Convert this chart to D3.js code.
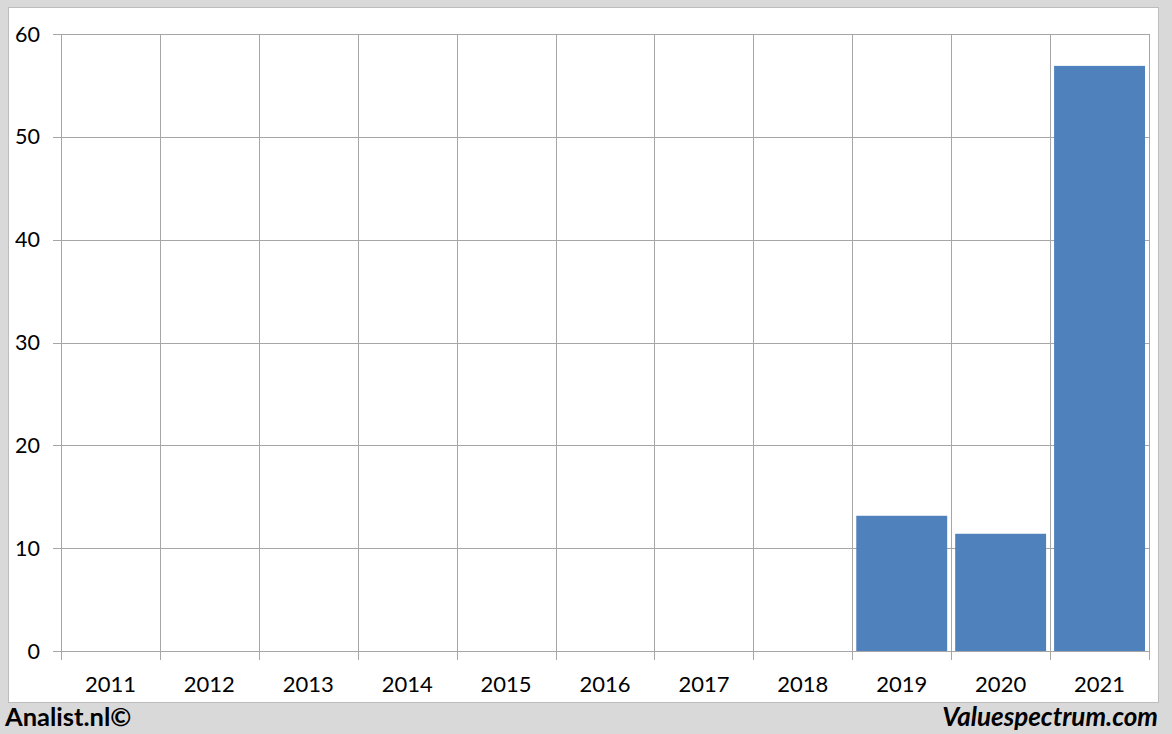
<!DOCTYPE html>
<html><head><meta charset="utf-8">
<script src="https://cdn.jsdelivr.net/npm/d3@7"></script>
<style>html,body{margin:0;padding:0;background:#d9d9d9;}svg{display:block;}</style>
</head><body>
<svg id="c" width="1172" height="734"></svg>
<script>
const years = ["2011","2012","2013","2014","2015","2016","2017","2018","2019","2020","2021"];
const values = [null,null,null,null,null,null,null,null,13.15,11.4,56.9];
const yTicks = [0,10,20,30,40,50,60];

const svg = d3.select("#c");
const font = "Lato, 'Open Sans', sans-serif";
svg.append("rect").attr("x",0).attr("y",0).attr("width",1172).attr("height",734).attr("fill","#d9d9d9");
svg.append("rect").attr("x",8.5).attr("y",7.5).attr("width",1150).attr("height",695)
  .attr("fill","#fff").attr("stroke","#bdbdbd").attr("stroke-width",1);

const L=61, R=1149, T=34, B=651;
const x = d3.scaleBand().domain(years).range([L,R]).paddingInner(0).paddingOuter(0);
const y = d3.scaleLinear().domain([0,60]).range([B,T]);
const grid="#a6a6a6";

svg.append("g").selectAll("line").data(yTicks).join("line")
  .attr("x1",53).attr("x2",R).attr("y1",d=>Math.round(y(d))+0.5).attr("y2",d=>Math.round(y(d))+0.5)
  .attr("stroke",grid).attr("stroke-width",1);
const bounds = years.map(d=>x(d)).concat([R]);
svg.append("g").selectAll("line").data(bounds).join("line")
  .attr("x1",d=>Math.round(d)+0.5).attr("x2",d=>Math.round(d)+0.5)
  .attr("y1",T).attr("y2",660).attr("stroke",grid).attr("stroke-width",1);

const pad=4;
svg.append("g").selectAll("rect").data(years.map((d,i)=>({k:d,v:values[i]})).filter(d=>d.v!=null)).join("rect")
  .attr("x",d=>x(d.k)+pad).attr("width",x.bandwidth()-2*pad)
  .attr("y",d=>y(d.v)).attr("height",d=>y(0)-y(d.v))
  .attr("fill","#4f81bd");

svg.append("g").selectAll("text").data(yTicks).join("text")
  .attr("x",40).attr("y",d=>y(d)+7.5).attr("text-anchor","end")
  .attr("font-family",font).attr("font-size",21.5).attr("fill","#000").text(d=>d);
svg.append("g").selectAll("text").data(years).join("text")
  .attr("x",d=>x(d)+x.bandwidth()/2).attr("y",692).attr("text-anchor","middle")
  .attr("font-family",font).attr("font-size",22).attr("fill","#000").text(d=>d);

svg.append("text").attr("x",5).attr("y",726).attr("font-family",font).attr("font-weight","bold")
  .attr("font-size",25.5).attr("fill","#000").text("Analist.nl©");
svg.append("text").attr("x",1158).attr("y",726).attr("text-anchor","end").attr("font-family",font)
  .attr("font-weight","bold").attr("font-style","italic").attr("font-size",26).attr("fill","#000").text("Valuespectrum.com");
</script>
</body></html>
